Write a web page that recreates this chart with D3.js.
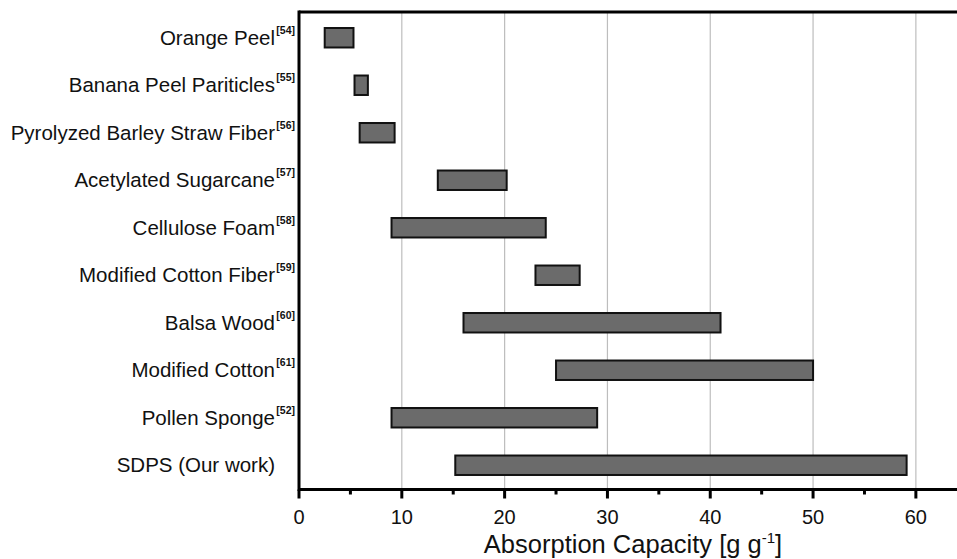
<!DOCTYPE html>
<html>
<head>
<meta charset="utf-8">
<script src="https://cdn.jsdelivr.net/npm/d3@7"></script>
<style>
  body { margin: 0; background: #fff; }
  svg { display: block; font-family: 'Liberation Sans', Arial, sans-serif; }
  .grid { stroke: #bdbdbd; stroke-width: 1.2; }
  .cat { font-size: 20.5px; fill: #111; }
  .ref { font-size: 10.5px; font-weight: bold; fill: #111; }
  .tick-lab { font-size: 20px; fill: #111; }
  .axis-title { font-size: 25.5px; fill: #111; }
</style>
</head>
<body>
<div id="chart"></div>
<script>
// Data
let materials = ['Orange Peel', 'Banana Peel Pariticles', 'Pyrolyzed Barley Straw Fiber',
    'Acetylated Sugarcane', 'Cellulose Foam', 'Modified Cotton Fiber', 'Balsa Wood',
    'Modified Cotton', 'Pollen Sponge', 'SDPS (Our work)'];
let refs = ['[54]', '[55]', '[56]', '[57]', '[58]', '[59]', '[60]', '[61]', '[52]', ''];
let lowValues = [2.5, 5.4, 5.9, 13.5, 9.0, 23.0, 16.0, 25.0, 9.0, 15.2];
let highValues = [5.3, 6.7, 9.3, 20.2, 24.0, 27.3, 41.0, 50.0, 29.0, 59.1];
let xTicks = [0, 10, 20, 30, 40, 50, 60];
let xMinorTicks = [5, 15, 25, 35, 45, 55];
let xTitle = 'Absorption Capacity [g g';

let data = materials.map((m, i) => ({name: m, ref: refs[i], lo: lowValues[i], hi: highValues[i]}));

let width = 957, height = 559;
let plot = {left: 299, right: 957, top: 12, bottom: 489.5};

let svg = d3.select('#chart')
    .append('svg')
        .attr('width', width)
        .attr('height', height);

// Scales
let scX = d3.scaleLinear().domain([0, 64]).range([plot.left, plot.right]);
let scY = d3.scaleBand().domain(materials).range([14, 489]).paddingInner(0.59).paddingOuter(0.295);

// Vertical gridlines
svg.selectAll('line.grid')
    .data(xTicks.filter(d => d > 0))
    .enter()
    .append('line')
        .attr('class', 'grid')
        .attr('x1', d => scX(d))
        .attr('x2', d => scX(d))
        .attr('y1', plot.top)
        .attr('y2', plot.bottom);

// Bars
svg.selectAll('rect.bar')
    .data(data)
    .enter()
    .append('rect')
        .attr('class', 'bar')
        .attr('x', d => scX(d.lo))
        .attr('width', d => scX(d.hi) - scX(d.lo))
        .attr('y', d => scY(d.name))
        .attr('height', scY.bandwidth())
        .attr('fill', '#6b6b6b')
        .attr('stroke', '#111')
        .attr('stroke-width', 2);

// Frame (top and left/bottom axis lines)
let frame = svg.append('g').attr('stroke', '#000').attr('stroke-width', 3);
frame.append('line').attr('x1', plot.left).attr('x2', plot.right).attr('y1', plot.top).attr('y2', plot.top);
frame.append('line').attr('x1', plot.left).attr('x2', plot.left).attr('y1', plot.top - 1.5).attr('y2', plot.bottom + 1.5);
frame.append('line').attr('x1', plot.left).attr('x2', plot.right).attr('y1', plot.bottom).attr('y2', plot.bottom);

// X ticks
frame.selectAll('line.major')
    .data(xTicks)
    .enter()
    .append('line')
        .attr('class', 'major')
        .attr('x1', d => scX(d)).attr('x2', d => scX(d))
        .attr('y1', plot.bottom).attr('y2', plot.bottom + 9);
frame.selectAll('line.minor')
    .data(xMinorTicks)
    .enter()
    .append('line')
        .attr('class', 'minor')
        .attr('x1', d => scX(d)).attr('x2', d => scX(d))
        .attr('y1', plot.bottom).attr('y2', plot.bottom + 5);

svg.selectAll('text.tick-lab')
    .data(xTicks)
    .enter()
    .append('text')
        .attr('class', 'tick-lab')
        .attr('text-anchor', 'middle')
        .attr('x', d => scX(d))
        .attr('y', 524)
        .text(d => d);

// Axis title with superscript -1
let title = svg.append('text')
    .attr('class', 'axis-title')
    .attr('text-anchor', 'middle')
    .attr('x', 633)
    .attr('y', 553);
title.append('tspan').text(xTitle);
title.append('tspan').attr('dy', -10).attr('font-size', '15px').text('-1');
title.append('tspan').attr('dy', 10).text(']');

// Category labels with reference superscripts
svg.selectAll('text.cat')
    .data(data)
    .enter()
    .append('text')
        .attr('class', 'cat')
        .attr('text-anchor', 'end')
        .attr('x', 275)
        .attr('y', d => scY(d.name) + scY.bandwidth() / 2 + 7)
        .text(d => d.name);

svg.selectAll('text.ref')
    .data(data.filter(d => d.ref))
    .enter()
    .append('text')
        .attr('class', 'ref')
        .attr('text-anchor', 'end')
        .attr('x', 295)
        .attr('y', d => scY(d.name) + scY.bandwidth() / 2 - 4)
        .text(d => d.ref);
</script>
</body>
</html>
